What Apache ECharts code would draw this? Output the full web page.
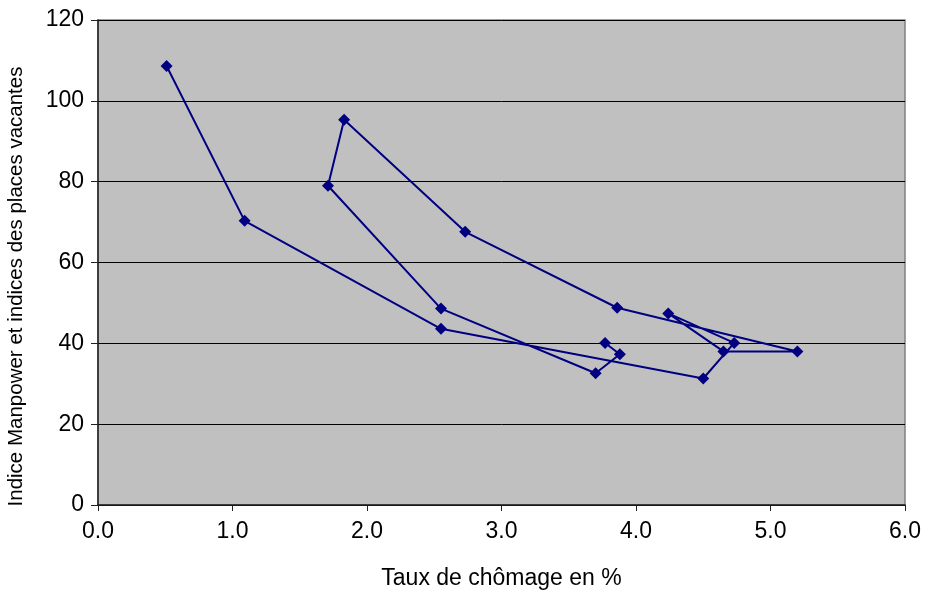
<!DOCTYPE html>
<html>
<head>
<meta charset="utf-8">
<script src="https://cdn.jsdelivr.net/npm/echarts@6/dist/echarts.min.js"></script>
<style>
  html, body { margin: 0; padding: 0; background: #ffffff; }
  #chart { width: 925px; height: 593px; }
</style>
</head>
<body>
<div id="chart"></div>
<script>
// Unemployment rate (%) and Manpower / vacancy index, in chronological order
const tauxChomage = [0.51, 1.09, 2.55, 4.50, 4.73, 4.24, 4.65, 5.20, 3.86, 2.73, 1.83, 1.71, 2.55, 3.70, 3.88, 3.77];
const indiceManpower = [108.6, 70.3, 43.6, 31.3, 40.1, 47.4, 38.0, 38.0, 48.8, 67.6, 95.3, 79.0, 48.6, 32.6, 37.3, 40.1];

const xTicks = [0, 1, 2, 3, 4, 5, 6];
const yTicks = [0, 20, 40, 60, 80, 100, 120];

const xTitle = 'Taux de chômage en %';
const yTitle = 'Indice Manpower et indices des places vacantes';

const points = tauxChomage.map((x, i) => [x, indiceManpower[i]]);

const chart = echarts.init(document.getElementById('chart'), null, { renderer: 'canvas' });

const font = 'Arial, "Liberation Sans", sans-serif';

chart.setOption({
  animation: false,
  backgroundColor: '#ffffff',
  grid: {
    left: 98,
    right: 20,
    top: 20,
    bottom: 88,
    outerBoundsMode: 'none',
    containLabel: false,
    show: true,
    backgroundColor: '#c0c0c0',
    borderColor: '#808080',
    borderWidth: 1.5
  },
  xAxis: {
    type: 'value',
    min: xTicks[0],
    max: xTicks[xTicks.length - 1],
    interval: 1,
    name: xTitle,
    nameLocation: 'middle',
    nameGap: 62,
    nameTextStyle: { fontFamily: font, fontSize: 23, color: '#000' },
    axisLine: { show: true, onZero: false, lineStyle: { color: '#202020', width: 1.5 } },
    axisTick: { show: true, length: 6, lineStyle: { color: '#202020' } },
    axisLabel: {
      margin: 15,
      fontFamily: font,
      fontSize: 23,
      color: '#000',
      formatter: v => v.toFixed(1)
    },
    splitLine: { show: false }
  },
  yAxis: {
    type: 'value',
    min: yTicks[0],
    max: yTicks[yTicks.length - 1],
    interval: 20,
    name: yTitle,
    nameLocation: 'middle',
    nameGap: 71,
    nameRotate: 90,
    nameTextStyle: {
      fontFamily: font,
      fontSize: 20.5,
      color: '#000',
      // extra room at the top end pushes the title slightly down the axis
      padding: [0, 48, 0, 0]
    },
    axisLine: { show: true, onZero: false, lineStyle: { color: '#202020', width: 1.5 } },
    axisTick: { show: true, length: 7, inside: false, lineStyle: { color: '#202020' } },
    axisLabel: {
      margin: 14,
      fontFamily: font,
      fontSize: 23,
      color: '#000'
    },
    splitLine: { show: true, lineStyle: { color: '#000000', width: 1 } }
  },
  series: [{
    type: 'line',
    data: points,
    symbol: 'diamond',
    symbolSize: 12,
    showAllSymbol: true,
    itemStyle: { color: '#000080' },
    lineStyle: { color: '#000080', width: 2 }
  }]
});
</script>
</body>
</html>
